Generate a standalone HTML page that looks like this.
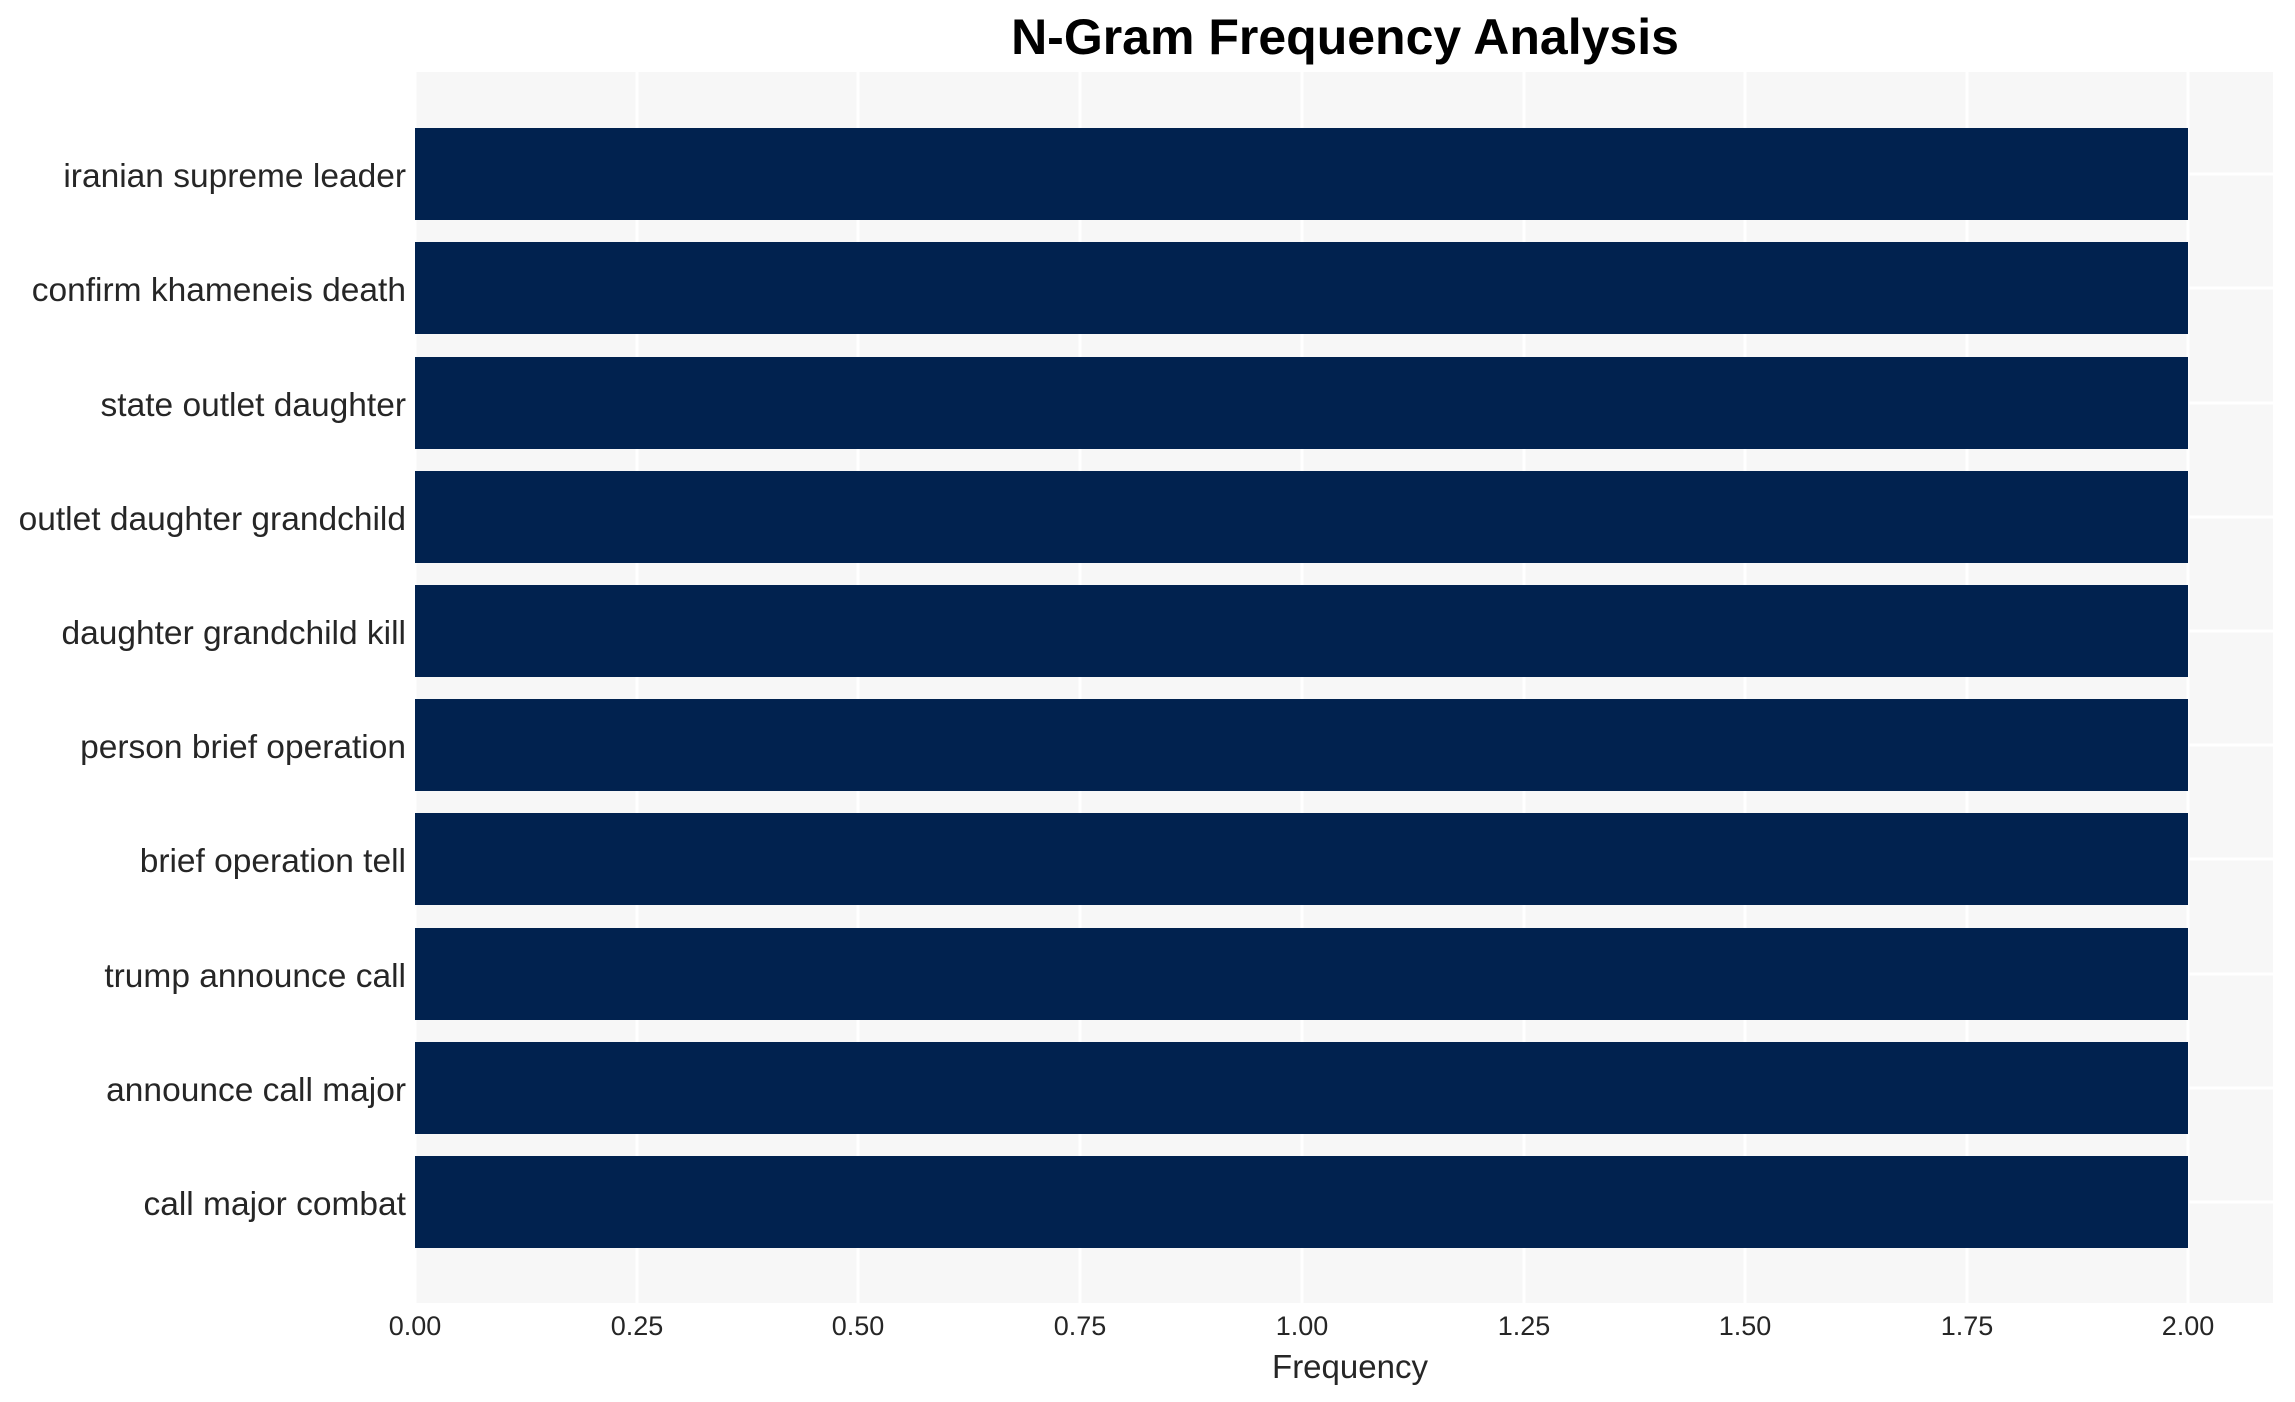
<!DOCTYPE html>
<html><head><meta charset="utf-8"><style>
html,body{margin:0;padding:0;background:#fff;}
svg{display:block;}
text{font-family:"Liberation Sans",Arial,sans-serif;fill:#262626;}
</style></head><body>
<svg width="2295" height="1402" viewBox="0 0 2295 1402" xmlns="http://www.w3.org/2000/svg">
<rect x="0" y="0" width="2295" height="1402" fill="#fff"/>
<rect x="415" y="72" width="1858" height="1231" fill="#f7f7f7"/>
<g stroke="#ffffff" stroke-width="3">
<line x1="415" y1="72" x2="415" y2="1303"/>
<line x1="637" y1="72" x2="637" y2="1303"/>
<line x1="858" y1="72" x2="858" y2="1303"/>
<line x1="1080" y1="72" x2="1080" y2="1303"/>
<line x1="1302" y1="72" x2="1302" y2="1303"/>
<line x1="1524" y1="72" x2="1524" y2="1303"/>
<line x1="1745" y1="72" x2="1745" y2="1303"/>
<line x1="1967" y1="72" x2="1967" y2="1303"/>
<line x1="2188" y1="72" x2="2188" y2="1303"/>
<line x1="415" y1="174" x2="2273" y2="174"/>
<line x1="415" y1="288" x2="2273" y2="288"/>
<line x1="415" y1="403" x2="2273" y2="403"/>
<line x1="415" y1="517" x2="2273" y2="517"/>
<line x1="415" y1="631" x2="2273" y2="631"/>
<line x1="415" y1="745" x2="2273" y2="745"/>
<line x1="415" y1="859" x2="2273" y2="859"/>
<line x1="415" y1="974" x2="2273" y2="974"/>
<line x1="415" y1="1088" x2="2273" y2="1088"/>
<line x1="415" y1="1202" x2="2273" y2="1202"/>
</g>
<g fill="#01224f">
<rect x="415" y="128" width="1773" height="92"/>
<rect x="415" y="242" width="1773" height="92"/>
<rect x="415" y="357" width="1773" height="92"/>
<rect x="415" y="471" width="1773" height="92"/>
<rect x="415" y="585" width="1773" height="92"/>
<rect x="415" y="699" width="1773" height="92"/>
<rect x="415" y="813" width="1773" height="92"/>
<rect x="415" y="928" width="1773" height="92"/>
<rect x="415" y="1042" width="1773" height="92"/>
<rect x="415" y="1156" width="1773" height="92"/>
</g>
<g font-size="33.5" text-anchor="end">
<text x="406" y="187">iranian supreme leader</text>
<text x="406" y="301">confirm khameneis death</text>
<text x="406" y="416">state outlet daughter</text>
<text x="406" y="530">outlet daughter grandchild</text>
<text x="406" y="644">daughter grandchild kill</text>
<text x="406" y="758">person brief operation</text>
<text x="406" y="872">brief operation tell</text>
<text x="406" y="987">trump announce call</text>
<text x="406" y="1101">announce call major</text>
<text x="406" y="1215">call major combat</text>
</g>
<g font-size="27" text-anchor="middle">
<text x="415" y="1335">0.00</text>
<text x="637" y="1335">0.25</text>
<text x="858" y="1335">0.50</text>
<text x="1080" y="1335">0.75</text>
<text x="1302" y="1335">1.00</text>
<text x="1524" y="1335">1.25</text>
<text x="1745" y="1335">1.50</text>
<text x="1967" y="1335">1.75</text>
<text x="2188" y="1335">2.00</text>
</g>
<text x="1350" y="1378" font-size="33" text-anchor="middle">Frequency</text>
<text x="1345" y="54" font-size="50" font-weight="bold" text-anchor="middle" style="fill:#000">N-Gram Frequency Analysis</text>
</svg>
</body></html>
